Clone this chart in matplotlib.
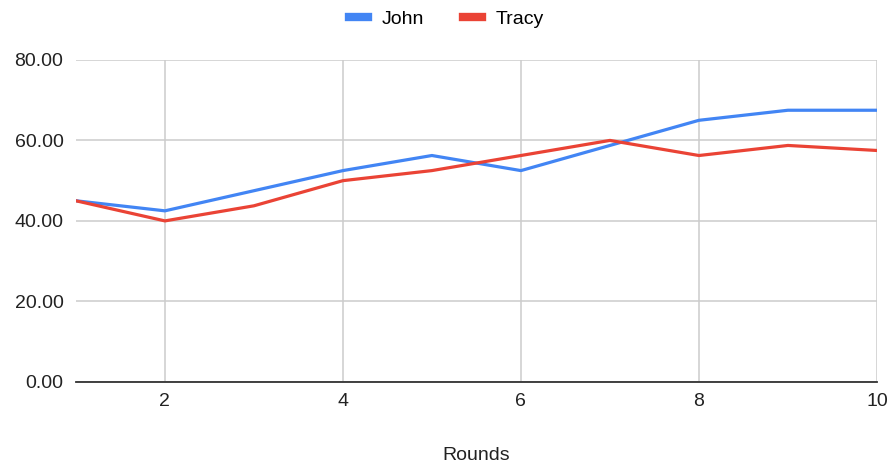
import matplotlib.pyplot as plt
from matplotlib.lines import Line2D
from matplotlib.ticker import FormatStrFormatter

plt.rcParams['font.family'] = ['Liberation Sans', 'DejaVu Sans']

rounds = [1, 2, 3, 4, 5, 6, 7, 8, 9, 10]
john = [45, 42.5, 47.5, 52.5, 56.25, 52.5, 58.75, 65, 67.5, 67.5]
tracy = [45, 40, 43.75, 50, 52.5, 56.25, 60, 56.25, 58.75, 57.5]
names = ['John', 'Tracy']
colors = ['#4285F4', '#EA4335']

fig = plt.figure(figsize=(8.93, 4.72), dpi=100)
ax = fig.add_axes([0.085, 0.191, 0.897, 0.682])

for series, col in zip([john, tracy], colors):
    ax.plot(rounds, series, color=col, linewidth=2.3, solid_joinstyle='round', zorder=3)

ax.set_xlim(1, 10)
ax.set_ylim(0, 80)
ax.set_xticks([2, 4, 6, 8, 10])
ax.set_yticks([0, 20, 40, 60, 80])
ax.yaxis.set_major_formatter(FormatStrFormatter('%.2f'))
ax.grid(True, color='#cccccc', linewidth=1.1)
ax.set_axisbelow(True)
ax.tick_params(length=0, labelsize=14, colors='#222222', pad=8)
ax.tick_params(axis='y', pad=9)

for side in ['top', 'right', 'left']:
    ax.spines[side].set_visible(False)
ax.spines['bottom'].set_color('#333333')
ax.spines['bottom'].set_linewidth(1.3)
ax.spines['bottom'].set_zorder(4)

ax.set_xlabel('Rounds', fontsize=14, color='#222222', labelpad=27)

handles = [Line2D([], [], color=c, linewidth=6) for c in colors]
fig.legend(handles, names, loc='center', bbox_to_anchor=(0.5, 0.96), ncol=2,
           frameon=False, fontsize=14, handlelength=1.0, columnspacing=2.0,
           handletextpad=0.7)

fig.savefig('out.png', dpi=100)
